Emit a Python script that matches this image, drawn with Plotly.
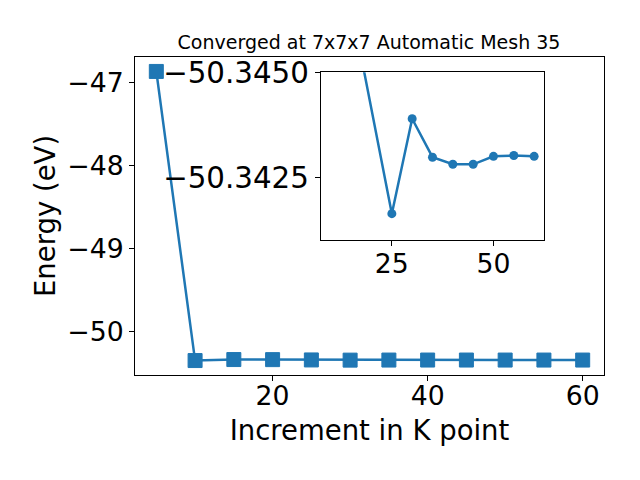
import plotly.graph_objects as go

# Main series
kpoints = [5, 10, 15, 20, 25, 30, 35, 40, 45, 50, 55, 60]
energy = [-46.868, -50.3491, -50.337, -50.338, -50.34163, -50.3439, -50.34298,
          -50.34281, -50.34281, -50.3430, -50.34302, -50.3430]

# Inset series
inset_k = [10, 25, 30, 35, 40, 45, 50, 55, 60]
inset_e = [-50.3491, -50.34163, -50.3439, -50.34298, -50.34281, -50.34281,
           -50.3430, -50.34302, -50.3430]

title_text = "Converged at 7x7x7 Automatic Mesh 35"
xlabel = "Increment in K point"
ylabel = "Energy (eV)"

C = "#1f77b4"
FONT = "DejaVu Sans"

fig = go.Figure()
fig.add_trace(go.Scatter(
    x=kpoints, y=energy, mode="lines+markers",
    line=dict(color=C, width=2.5),
    marker=dict(symbol="square", size=14, color=C, line=dict(color=C, width=1)),
    xaxis="x", yaxis="y", showlegend=False, cliponaxis=False))
fig.add_trace(go.Scatter(
    x=inset_k, y=inset_e, mode="lines+markers",
    line=dict(color=C, width=2.5),
    marker=dict(symbol="circle", size=9, color=C),
    xaxis="x2", yaxis="y2", showlegend=False, cliponaxis=True))

L, R, T, B = 135, 36, 57, 105
W, H = 640, 480
pw, ph = W - L - R, H - T - B

def dx(px):
    return (px - L) / pw

def dy(py):
    return (H - B - py) / ph

axis_common = dict(showgrid=False, zeroline=False, showline=True, linecolor="black",
                   linewidth=1, mirror=True, ticks="outside", ticklen=5,
                   tickcolor="black", tickwidth=1, automargin=False)

fig.update_layout(
    width=W, height=H,
    margin=dict(l=L, r=R, t=T, b=B),
    paper_bgcolor="white", plot_bgcolor="white",
    font=dict(family=FONT, color="black"),
    title=dict(text=title_text, x=369 / W, xref="container", xanchor="center",
               y=1 - 42 / H, yref="container", yanchor="middle",
               font=dict(size=19, family=FONT, color="black")),
    xaxis=dict(range=[2.25, 62.75], tickvals=[20, 40, 60], ticklabelstandoff=-8,
               tickfont=dict(size=26.7), title=dict(text=xlabel, font=dict(size=27.5), standoff=10),
               domain=[0, 1], anchor="y", **axis_common),
    yaxis=dict(range=[-50.523, -46.694], tickvals=[-50, -49, -48, -47],
               tickfont=dict(size=26.7), title=dict(text=ylabel, font=dict(size=27.5), standoff=3),
               domain=[0, 1], anchor="x", **axis_common),
    xaxis2=dict(range=[7.5, 62.5], tickvals=[25, 50], tickfont=dict(size=26.7),
                ticklabelstandoff=-5,
                domain=[dx(320.7), dx(544.3)], anchor="y2", **axis_common),
    yaxis2=dict(range=[-50.3410, -50.34501], tickvals=[-50.345, -50.3425],
                tickformat=".4f", tickfont=dict(size=29.3),
                domain=[dy(240), dy(72.3)], anchor="x2", **axis_common),
)

fig.write_html("out.html", config={"displayModeBar": False},
               post_script="document.body.style.margin='0';document.body.style.padding='0';")
